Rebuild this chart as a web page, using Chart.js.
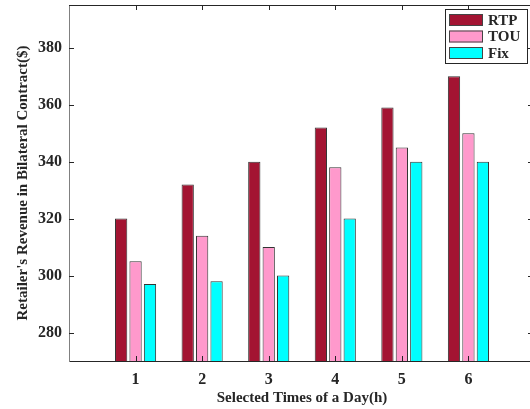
<!DOCTYPE html>
<html lang="en">
<head>
<meta charset="UTF-8">
<title>Retailer's Revenue in Bilateral Contract</title>
<script src="https://cdn.jsdelivr.net/npm/chart.js"></script>
<style>
  * { margin: 0; padding: 0; box-sizing: border-box; }
  html, body { width: 530px; height: 409px; overflow: hidden; background: #fff; }
  /* plot box runs a few px past the right edge, like the original figure */
  #wrap { width: 537px; height: 409px; position: relative; }
</style>
</head>
<body>
<div id="wrap"><canvas id="chart"></canvas></div>
<script>
const hours = [1, 2, 3, 4, 5, 6];
const rtp = [320, 332, 340, 352, 359, 370];
const tou = [305, 314, 310, 338, 345, 350];
const fix = [297, 298, 300, 320, 340, 340];
const yTicks = [280, 300, 320, 340, 360, 380];
const seriesNames = ['RTP', 'TOU', 'Fix'];
const seriesColors = ['#a31432', '#ff99cc', '#00ffff'];

const serif = "'Liberation Serif', 'Times New Roman', serif";
const ink = '#262626';

// top edge of the box + inward ticks (matlab style); right edge falls off the page
const framePlugin = {
    id: 'frame',
    afterDatasetsDraw(chart) {
        const { ctx, chartArea: a, scales: { x, y } } = chart;
        ctx.save();
        ctx.strokeStyle = ink;
        ctx.lineWidth = 1;
        ctx.beginPath();
        ctx.moveTo(a.left, a.top + 0.5);
        ctx.lineTo(a.right, a.top + 0.5);
        yTicks.forEach(v => {
            const py = Math.round(y.getPixelForValue(v)) + 0.5;
            ctx.moveTo(a.left, py); ctx.lineTo(a.left + 5, py);
            ctx.moveTo(a.right, py); ctx.lineTo(a.right - 7, py);
        });
        hours.forEach(h => {
            const px = Math.round(x.getPixelForValue(h)) + 0.5;
            ctx.moveTo(px, a.top); ctx.lineTo(px, a.top + 5);
            ctx.moveTo(px, a.bottom); ctx.lineTo(px, a.bottom - 5);
        });
        ctx.stroke();
        ctx.restore();
    }
};

// legend drawn inside the plot, top right, with a frame
const boxLegend = {
    id: 'boxLegend',
    afterDraw(chart) {
        const { ctx, chartArea: a } = chart;
        const w = 82, h = 54;
        const left = a.right - 8 - w, top = a.top + 4;
        ctx.save();
        ctx.fillStyle = '#fff';
        ctx.fillRect(left, top, w, h);
        ctx.strokeStyle = ink;
        ctx.lineWidth = 1;
        ctx.strokeRect(left + 0.5, top + 0.5, w, h);
        ctx.font = 'bold 15px ' + serif;
        ctx.textBaseline = 'middle';
        chart.data.datasets.forEach((ds, i) => {
            const cy = top + 11 + i * 16.5;
            ctx.fillStyle = ds.backgroundColor;
            ctx.fillRect(left + 4, cy - 6, 34, 12);
            ctx.strokeStyle = '#444';
            ctx.strokeRect(left + 4.5, cy - 5.5, 33, 11);
            ctx.fillStyle = ink;
            ctx.fillText(ds.label, left + 43, cy + 1);
        });
        ctx.restore();
    }
};

const series = [rtp, tou, fix];

new Chart(document.getElementById('chart'), {
    type: 'bar',
    data: {
        datasets: series.map((vals, i) => ({
            label: seriesNames[i],
            data: hours.map((h, j) => ({ x: h, y: vals[j] })),
            backgroundColor: seriesColors[i],
            borderColor: '#333',
            borderWidth: 1,
            categoryPercentage: 0.65,
            barPercentage: 0.85
        }))
    },
    options: {
        responsive: true,
        maintainAspectRatio: false,
        animation: false,
        devicePixelRatio: 1,
        layout: { padding: { top: 5, right: 2, left: 0, bottom: 0 } },
        plugins: {
            legend: { display: false },
            tooltip: { enabled: false }
        },
        scales: {
            x: {
                type: 'linear',
                offset: false,
                min: 0,
                max: 7,
                afterBuildTicks: s => { s.ticks = hours.map(v => ({ value: v })); },
                afterFit: s => { s.height = 48; s.paddingLeft = 0; s.paddingRight = 0; },
                grid: { drawOnChartArea: false, drawTicks: false },
                border: { display: true, color: ink, width: 1 },
                ticks: {
                    color: ink,
                    padding: 9,
                    font: { family: serif, size: 16, weight: 'bold' }
                },
                title: {
                    display: true,
                    text: 'Selected Times of a Day(h)',
                    color: ink,
                    padding: { top: 0, bottom: 2 },
                    font: { family: serif, size: 15, weight: 'bold' }
                }
            },
            y: {
                min: 270,
                max: 395,
                afterBuildTicks: s => { s.ticks = yTicks.map(v => ({ value: v })); },
                afterFit: s => { s.width = 69; s.paddingTop = 0; s.paddingBottom = 0; },
                grid: { drawOnChartArea: false, drawTicks: false },
                border: { display: true, color: '#808080', width: 1 },
                ticks: {
                    color: ink,
                    padding: 7,
                    font: { family: serif, size: 16, weight: 'bold' }
                },
                title: {
                    display: true,
                    text: "Retailer's Revenue in Bilateral Contract($)",
                    color: ink,
                    padding: { top: 14, bottom: 0 },
                    font: { family: serif, size: 15, weight: 'bold' }
                }
            }
        }
    },
    plugins: [framePlugin, boxLegend]
});
</script>
</body>
</html>
